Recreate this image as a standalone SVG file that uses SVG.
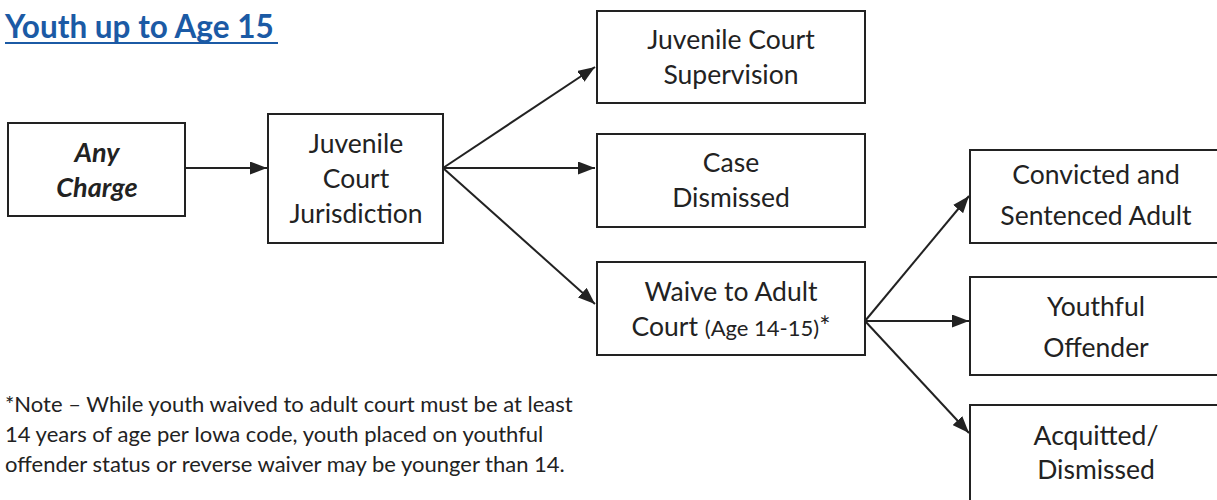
<svg xmlns="http://www.w3.org/2000/svg" width="1217" height="500" viewBox="0 0 1217 500">
<style>
.box{fill:#fff;stroke:#222;stroke-width:2}
.t{font-family:Lato,"Open Sans","Liberation Sans",sans-serif;font-size:26.5px;fill:#222;text-anchor:middle}
.b{font-weight:bold;font-style:italic;font-size:27px}
.c{stroke:#222;stroke-width:2;fill:none}
.note{font-family:Lato,"Open Sans","Liberation Sans",sans-serif;font-size:22px;fill:#222}
.title{font-family:Lato,"Open Sans","Liberation Sans",sans-serif;font-size:31.5px;font-weight:bold;fill:#1b5aa5}
</style>
<defs>
<marker id="ah" viewBox="0 0 10 10" refX="10" refY="5" markerWidth="17" markerHeight="13" markerUnits="userSpaceOnUse" orient="auto" preserveAspectRatio="none">
<path d="M0,0 L10,5 L0,10 z" fill="#222"/>
</marker>
</defs>
<rect width="1217" height="500" fill="#fff"/>
<g id="title">
<text class="title" x="5" y="38">Youth up to Age 15</text>
<line x1="5" y1="43" x2="278" y2="43" stroke="#1b5aa5" stroke-width="2"/>
</g>
<g id="connectors">
<line class="c" x1="186" y1="168" x2="267" y2="168" marker-end="url(#ah)"/>
<line class="c" x1="443" y1="168" x2="595" y2="67" marker-end="url(#ah)"/>
<line class="c" x1="443" y1="168" x2="595" y2="168" marker-end="url(#ah)"/>
<line class="c" x1="443" y1="168" x2="595" y2="304" marker-end="url(#ah)"/>
<line class="c" x1="865" y1="321" x2="969" y2="196" marker-end="url(#ah)"/>
<line class="c" x1="865" y1="321" x2="969" y2="321" marker-end="url(#ah)"/>
<line class="c" x1="865" y1="321" x2="969" y2="433" marker-end="url(#ah)"/>
</g>
<g id="any-charge">
<rect class="box" x="8" y="123" width="177" height="93"/>
<text class="t b" x="97" y="162">Any</text>
<text class="t b" x="97" y="197">Charge</text>
</g>
<g id="jurisdiction">
<rect class="box" x="268" y="114" width="175" height="129"/>
<text class="t" x="356" y="153">Juvenile</text>
<text class="t" x="356" y="188">Court</text>
<text class="t" x="356" y="223">Jurisdiction</text>
</g>
<g id="supervision">
<rect class="box" x="597" y="11" width="268" height="92"/>
<text class="t" x="731" y="49">Juvenile Court</text>
<text class="t" x="731" y="84">Supervision</text>
</g>
<g id="dismissed">
<rect class="box" x="597" y="134" width="268" height="93"/>
<text class="t" x="731" y="172">Case</text>
<text class="t" x="731" y="207">Dismissed</text>
</g>
<g id="waive">
<rect class="box" x="597" y="262" width="268" height="93"/>
<text class="t" x="731" y="301">Waive to Adult</text>
<text class="t" x="731" y="336">Court <tspan font-size="22">(Age 14-15)</tspan>*</text>
</g>
<g id="convicted">
<rect class="box" x="970" y="150" width="260" height="93"/>
<text class="t" x="1096" y="184">Convicted and</text>
<text class="t" x="1096" y="225">Sentenced Adult</text>
</g>
<g id="youthful">
<rect class="box" x="970" y="277" width="260" height="98"/>
<text class="t" x="1096" y="316">Youthful</text>
<text class="t" x="1096" y="357">Offender</text>
</g>
<g id="acquitted">
<rect class="box" x="970" y="405" width="260" height="110"/>
<text class="t" x="1096" y="445">Acquitted/</text>
<text class="t" x="1096" y="479">Dismissed</text>
</g>
<g id="note">
<text class="note" x="5" y="412">*Note – While youth waived to adult court must be at least</text>
<text class="note" x="5" y="442">14 years of age per Iowa code, youth placed on youthful</text>
<text class="note" x="5" y="472">offender status or reverse waiver may be younger than 14.</text>
</g>
</svg>
